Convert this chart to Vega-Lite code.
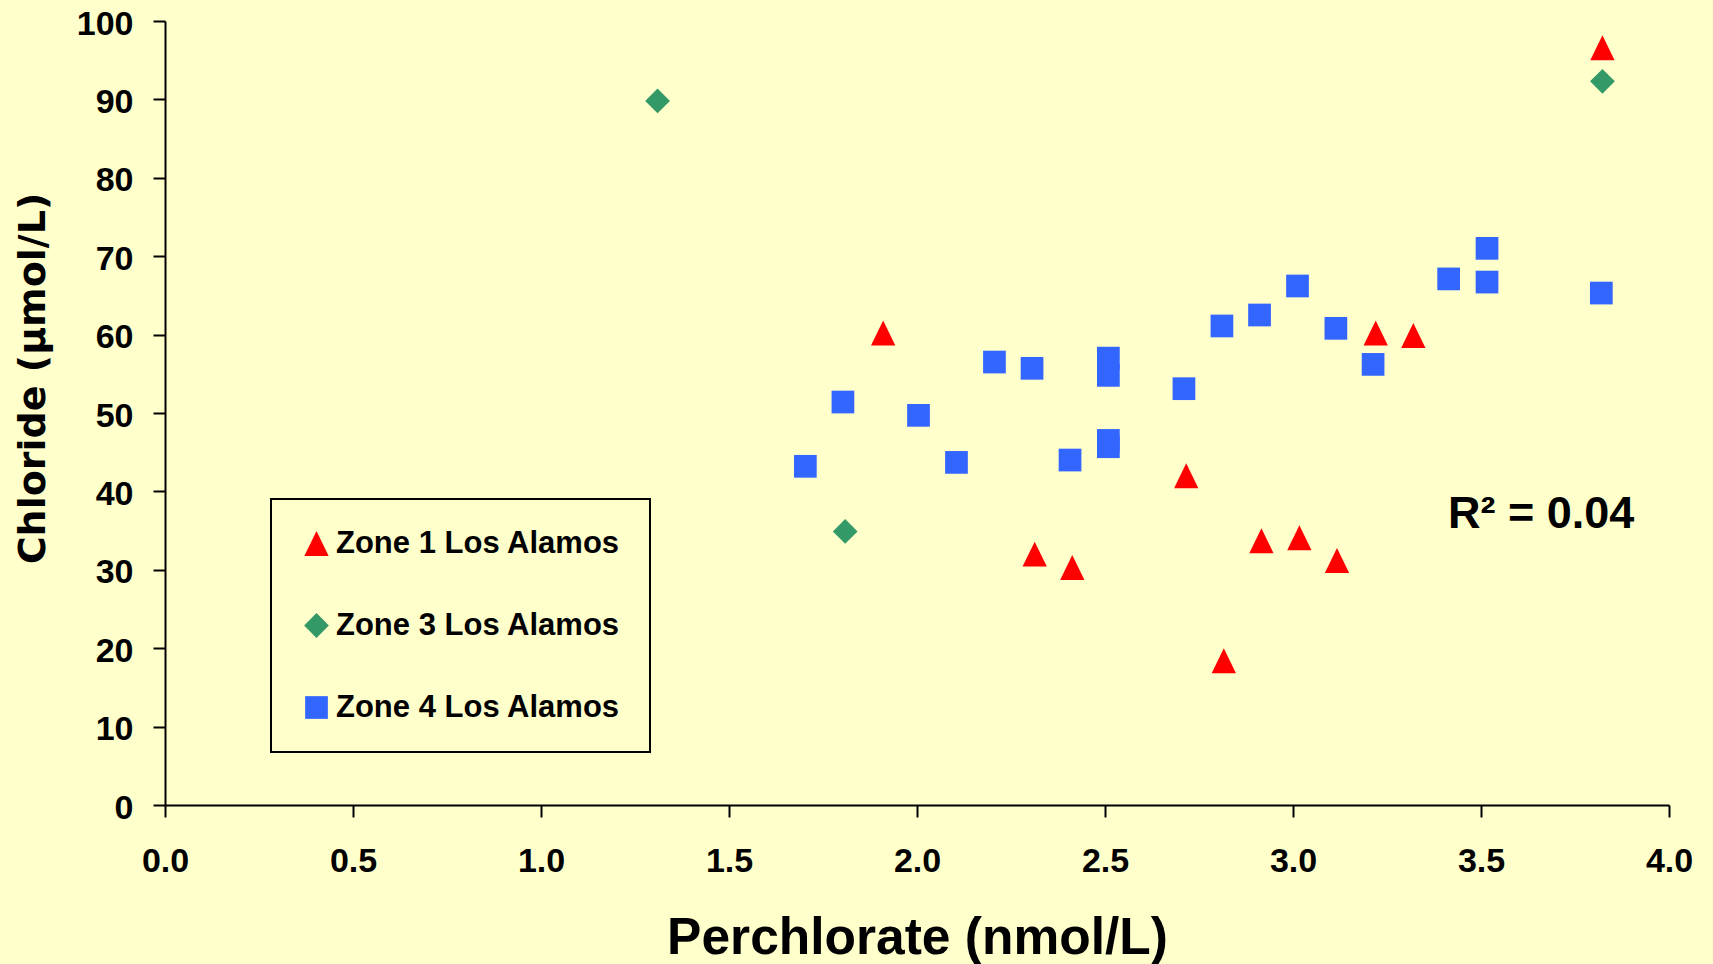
{
  "$schema": "https://vega.github.io/schema/vega-lite/v6.json",
  "width": 1504,
  "height": 784,
  "autosize": "none",
  "padding": {"left": 165, "top": 21, "right": 44, "bottom": 159},
  "background": "#FFFFCC",
  "config": {"view": {"stroke": null}, "font": "Liberation Sans"},
  "layer": [
    {
      "data": {
        "values": [
          {"zone": "Zone 1 Los Alamos", "perchlorate": 1.91, "chloride": 60.2},
          {"zone": "Zone 1 Los Alamos", "perchlorate": 2.313, "chloride": 32.0},
          {"zone": "Zone 1 Los Alamos", "perchlorate": 2.413, "chloride": 30.3},
          {"zone": "Zone 1 Los Alamos", "perchlorate": 2.716, "chloride": 42.0},
          {"zone": "Zone 1 Los Alamos", "perchlorate": 2.816, "chloride": 18.4},
          {"zone": "Zone 1 Los Alamos", "perchlorate": 2.916, "chloride": 33.7},
          {"zone": "Zone 1 Los Alamos", "perchlorate": 3.017, "chloride": 34.1},
          {"zone": "Zone 1 Los Alamos", "perchlorate": 3.117, "chloride": 31.2},
          {"zone": "Zone 1 Los Alamos", "perchlorate": 3.22, "chloride": 60.2},
          {"zone": "Zone 1 Los Alamos", "perchlorate": 3.32, "chloride": 59.9},
          {"zone": "Zone 1 Los Alamos", "perchlorate": 3.823, "chloride": 96.6},
          {"zone": "Zone 3 Los Alamos", "perchlorate": 1.31, "chloride": 89.8},
          {"zone": "Zone 3 Los Alamos", "perchlorate": 1.809, "chloride": 34.9},
          {"zone": "Zone 3 Los Alamos", "perchlorate": 3.823, "chloride": 92.3},
          {"zone": "Zone 4 Los Alamos", "perchlorate": 1.703, "chloride": 43.2},
          {"zone": "Zone 4 Los Alamos", "perchlorate": 1.803, "chloride": 51.4},
          {"zone": "Zone 4 Los Alamos", "perchlorate": 2.004, "chloride": 49.7},
          {"zone": "Zone 4 Los Alamos", "perchlorate": 2.105, "chloride": 43.7},
          {"zone": "Zone 4 Los Alamos", "perchlorate": 2.206, "chloride": 56.5},
          {"zone": "Zone 4 Los Alamos", "perchlorate": 2.306, "chloride": 55.7},
          {"zone": "Zone 4 Los Alamos", "perchlorate": 2.407, "chloride": 44.0},
          {"zone": "Zone 4 Los Alamos", "perchlorate": 2.509, "chloride": 57.0},
          {"zone": "Zone 4 Los Alamos", "perchlorate": 2.509, "chloride": 54.8},
          {"zone": "Zone 4 Los Alamos", "perchlorate": 2.509, "chloride": 46.5},
          {"zone": "Zone 4 Los Alamos", "perchlorate": 2.509, "chloride": 45.7},
          {"zone": "Zone 4 Los Alamos", "perchlorate": 2.71, "chloride": 53.1},
          {"zone": "Zone 4 Los Alamos", "perchlorate": 2.811, "chloride": 61.1},
          {"zone": "Zone 4 Los Alamos", "perchlorate": 2.911, "chloride": 62.5},
          {"zone": "Zone 4 Los Alamos", "perchlorate": 3.012, "chloride": 66.2},
          {"zone": "Zone 4 Los Alamos", "perchlorate": 3.114, "chloride": 60.8},
          {"zone": "Zone 4 Los Alamos", "perchlorate": 3.213, "chloride": 56.2},
          {"zone": "Zone 4 Los Alamos", "perchlorate": 3.414, "chloride": 67.1},
          {"zone": "Zone 4 Los Alamos", "perchlorate": 3.516, "chloride": 71.0},
          {"zone": "Zone 4 Los Alamos", "perchlorate": 3.516, "chloride": 66.7},
          {"zone": "Zone 4 Los Alamos", "perchlorate": 3.82, "chloride": 65.3}
        ]
      },
      "mark": {"type": "point", "filled": true, "opacity": 1, "size": 516, "strokeWidth": 0},
      "encoding": {
        "x": {
          "field": "perchlorate",
          "type": "quantitative",
          "scale": {"domain": [0, 4], "nice": false, "zero": true},
          "axis": {
            "title": "Perchlorate (nmol/L)",
            "values": [0, 0.5, 1, 1.5, 2, 2.5, 3, 3.5, 4],
            "format": ".1f",
            "grid": false,
            "domainColor": "black",
            "domainWidth": 2,
            "tickColor": "black",
            "tickWidth": 2,
            "tickSize": 12,
            "labelFont": "Liberation Sans",
            "labelFontSize": 34,
            "labelFontWeight": "bold",
            "labelColor": "black",
            "labelPadding": 27,
            "labelFlush": false,
            "labelOverlap": false,
            "titleFont": "Liberation Sans",
            "titleFontSize": 51.5,
            "titleFontWeight": "bold",
            "titleColor": "black",
            "titleBaseline": "alphabetic",
            "titleY": 148
          }
        },
        "y": {
          "field": "chloride",
          "type": "quantitative",
          "scale": {"domain": [0, 100], "nice": false},
          "axis": {
            "title": "Chloride (µmol/L)",
            "values": [0, 10, 20, 30, 40, 50, 60, 70, 80, 90, 100],
            "grid": false,
            "domainColor": "black",
            "domainWidth": 2,
            "tickColor": "black",
            "tickWidth": 2,
            "tickSize": 12,
            "labelFont": "Liberation Sans",
            "labelFontSize": 34,
            "labelFontWeight": "bold",
            "labelColor": "black",
            "labelPadding": 20,
            "labelOffset": 3,
            "labelFlush": false,
            "labelOverlap": false,
            "titleFont": "DejaVu Sans",
            "titleFontSize": 38,
            "titleFontWeight": "bold",
            "titleColor": "black",
            "titleAngle": -90,
            "titleBaseline": "alphabetic",
            "titleAlign": "center",
            "titleX": -121,
            "titleY": 357
          }
        },
        "color": {
          "field": "zone",
          "type": "nominal",
          "scale": {
            "domain": ["Zone 1 Los Alamos", "Zone 3 Los Alamos", "Zone 4 Los Alamos"],
            "range": ["#FF0000", "#339966", "#3366FF"]
          },
          "legend": {
            "title": null,
            "orient": "none",
            "legendX": 106,
            "legendY": 478,
            "padding": 29,
            "strokeColor": "black",
            "fillColor": "#FFFFCC",
            "labelFont": "Liberation Sans",
            "labelFontSize": 31,
            "labelFontWeight": "bold",
            "labelColor": "black",
            "labelOffset": 4,
            "labelLimit": 500,
            "rowPadding": 50,
            "symbolSize": 516,
            "symbolOffset": 1,
            "symbolStrokeWidth": 0,
            "symbolOpacity": 1,
            "encode": {"legend": {"update": {"strokeWidth": {"value": 2}}}}
          }
        },
        "shape": {
          "field": "zone",
          "type": "nominal",
          "scale": {
            "domain": ["Zone 1 Los Alamos", "Zone 3 Los Alamos", "Zone 4 Los Alamos"],
            "range": ["M0,-1.1L1.07,1.1L-1.07,1.1Z", "M0,-1.09L1.09,0L0,1.09L-1.09,0Z", "M-1,-1L1,-1L1,1L-1,1Z"]
          },
          "legend": {
            "title": null,
            "orient": "none",
            "legendX": 106,
            "legendY": 478,
            "padding": 29,
            "strokeColor": "black",
            "fillColor": "#FFFFCC",
            "labelFont": "Liberation Sans",
            "labelFontSize": 31,
            "labelFontWeight": "bold",
            "labelColor": "black",
            "labelOffset": 4,
            "labelLimit": 500,
            "rowPadding": 50,
            "symbolSize": 516,
            "symbolOffset": 1,
            "symbolStrokeWidth": 0,
            "symbolOpacity": 1,
            "encode": {"legend": {"update": {"strokeWidth": {"value": 2}}}}
          }
        }
      }
    },
    {
      "data": {"values": [{}]},
      "mark": {"type": "text", "text": "R² = 0.04", "font": "Liberation Sans", "fontSize": 45, "fontWeight": "bold", "align": "left", "baseline": "alphabetic", "color": "black"},
      "encoding": {
        "x": {"datum": 3.412, "type": "quantitative"},
        "y": {"datum": 35.37, "type": "quantitative"}
      }
    }
  ]
}
